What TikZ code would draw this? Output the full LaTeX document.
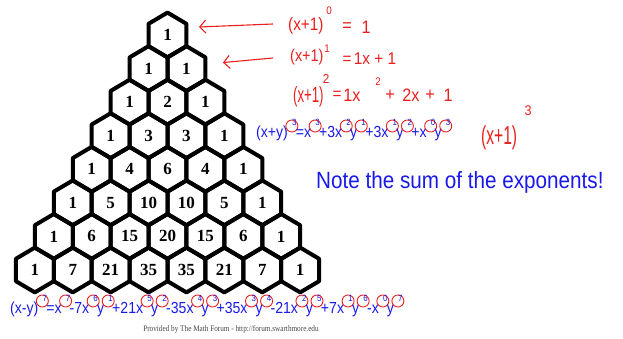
\documentclass[tikz,border=0pt]{standalone}
\usepackage{fontspec}
\setmainfont{Liberation Serif}
\newfontfamily\bluefont[FakeStretch=0.88]{Liberation Sans}
\newfontfamily\handfont{Liberation Sans}
\newfontfamily\footfont[FakeStretch=0.85]{Liberation Serif}
\usetikzlibrary{arrows.meta,calc}
\definecolor{eqblue}{RGB}{25,25,235}
\definecolor{eqred}{RGB}{235,30,30}
\definecolor{footgray}{RGB}{70,70,70}
\newcommand\ce[1]{\makebox[8pt]{\tikz[baseline=0pt,overlay]{\draw[eqred,line width=0.9pt] (0pt,12pt) circle (6pt); \node[inner sep=0pt,text=eqblue,font=\bluefont\fontsize{9}{9}\selectfont] at (0pt,12pt) {#1};}}}
\newcommand\hw[3]{\scalebox{#2}[1]{\handfont\fontsize{#1}{#1}\selectfont #3}}
\tikzset{
  hexline/.style={draw=black,line width=4pt,line join=round},
  hexnum/.style={inner sep=0pt,font=\bfseries\fontsize{17}{17}\selectfont},
  blueeq/.style={inner sep=0pt,text=eqblue,font=\bluefont\fontsize{16}{18}\selectfont},
  hand/.style={inner sep=0pt,text=eqred},
  redarrow/.style={draw=eqred,line width=1.1pt,-{Straight Barb[length=6pt,width=13pt]}},
}
\begin{document}
\begin{tikzpicture}[x=1pt,y=-1pt]
\useasboundingbox (0,0) rectangle (623,339);
% Pascal hexagons
\foreach \r/\vals in {0/{1},1/{1,1},2/{1,2,1},3/{1,3,3,1},4/{1,4,6,4,1},5/{1,5,10,10,5,1},6/{1,6,15,20,15,6,1},7/{1,7,21,35,35,21,7,1}}{
  \foreach \v [count=\k from 0] in \vals {
    \node[hexnum] (h\r-\k) at ({167.5+(\k-\r/2)*37.9}, {35+\r*33.57}) {\v};
    \draw[hexline] (h\r-\k.center) ++(0,-22.4) -- ++(18.95,11.2) -- ++(0,22.4) -- ++(-18.95,11.2) -- ++(-18.95,-11.2) -- ++(0,-22.4) -- cycle;
  }
}
% red handwriting, line 1
\node[hand,anchor=base west] (l1a) at (288,31) {\hw{18}{0.85}{(x+1)}};
\node[hand] (l1s) at (329,11) {\hw{11}{0.9}{0}};
\node[hand] (l1e) at (347,27) {\hw{18}{0.9}{=}};
\node[hand] (l1r) at (366,27) {\hw{18}{0.9}{1}};
% line 2
\node[hand,anchor=base west] (l2a) at (290,62) {\hw{17}{0.85}{(x+1)}};
\node[hand] (l2s) at (327,49) {\hw{11}{0.9}{1}};
\node[hand] (l2e) at (347,60) {\hw{17}{0.9}{=}};
\node[hand] (l2r) at (375,59) {\hw{17}{0.9}{1x + 1}};
% line 3
\node[hand,anchor=base west] (l3a) at (293,103) {\hw{22}{0.6}{(x+1)}};
\node[hand] (l3s) at (326,79) {\hw{13}{0.9}{2}};
\node[hand] (l3e) at (337,95) {\hw{17}{0.9}{=}};
\node[hand] (l3b) at (352,95) {\hw{18}{0.9}{1x}};
\node[hand] (l3c) at (378,82) {\hw{11}{0.9}{2}};
\node[hand] (l3d) at (390,95) {\hw{18}{0.9}{+}};
\node[hand] (l3f) at (411,95) {\hw{18}{0.9}{2x}};
\node[hand] (l3g) at (430,95) {\hw{18}{0.9}{+}};
\node[hand] (l3h) at (448,95) {\hw{18}{0.9}{1}};
% (x+1)^3
\node[hand,anchor=base west] (l4a) at (481,145) {\hw{26}{0.6}{(x+1)}};
\node[hand] (l4s) at (528,111) {\hw{14}{0.9}{3}};
% arrows
\coordinate (a1s) at (273,24);
\coordinate (a2s) at (273,58);
\draw[redarrow] (a1s) -- ($(h0-0.center)+(31.5,-8)$);
\draw[redarrow] (a2s) -- ($(h1-1.center)+(36.5,-6)$);
% blue equations
\node[blueeq,anchor=base west] (eq3) at (256,138) {(x+y)\ce{3}=x\ce{3}+3x\ce{2}y\ce{1}+3x\ce{1}y\ce{2}+x\ce{0}y\ce{3}};
\node[inner sep=0pt,text=eqblue,font=\bluefont\fontsize{23.5}{26}\selectfont,anchor=base west] (note) at (316,189) {Note the sum of the exponents!};
\node[blueeq,anchor=base west] (eq7) at (10,313) {(x-y)\ce{7}=x\ce{7}-7x\ce{6}y\ce{1}+21x\ce{5}y\ce{2}-35x\ce{4}y\ce{3}+35x\ce{3}y\ce{4}-21x\ce{2}y\ce{5}+7x\ce{1}y\ce{6}-x\ce{0}y\ce{7}};
% footer
\node[inner sep=0pt,text=footgray,font=\footfont\fontsize{8.5}{9}\selectfont] (foot) at (231,329) {Provided by The Math Forum - http://forum.swarthmore.edu};
\end{tikzpicture}
\end{document}
